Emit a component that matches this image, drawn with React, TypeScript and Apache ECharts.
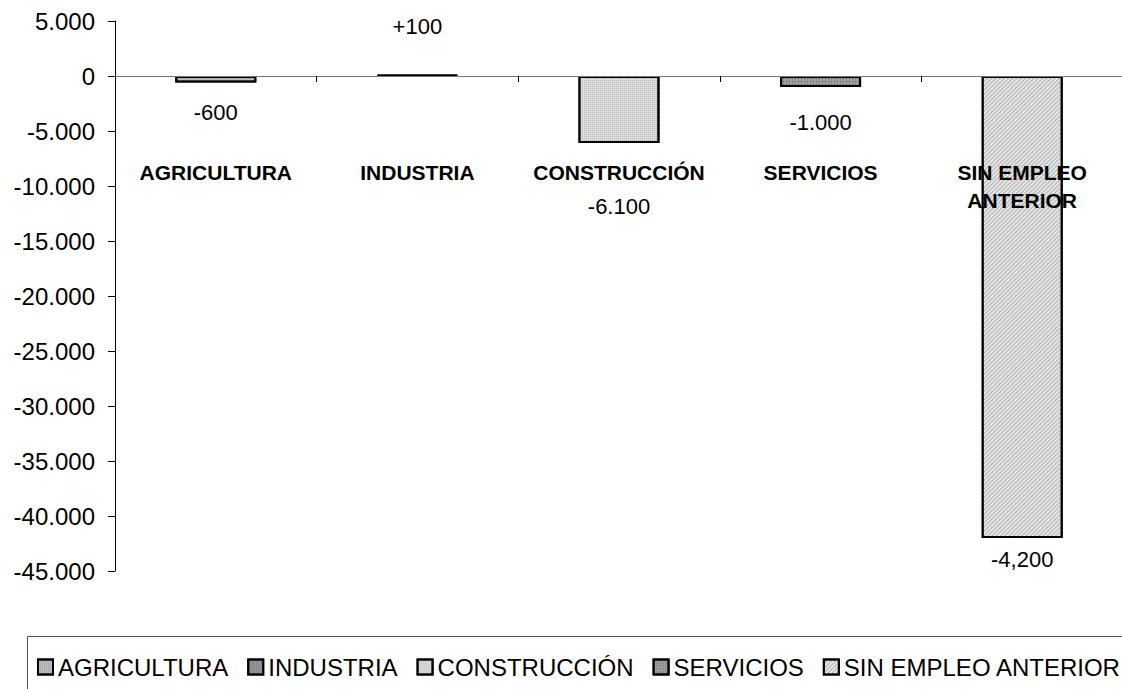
import React, { useEffect, useRef } from "react";
import * as echarts from "echarts";

const categories = ["AGRICULTURA", "INDUSTRIA", "CONSTRUCCIÓN", "SERVICIOS", "SIN EMPLEO\nANTERIOR"];
const seriesNames = ["AGRICULTURA", "INDUSTRIA", "CONSTRUCCIÓN", "SERVICIOS", "SIN EMPLEO ANTERIOR"];
const values = [-600, 100, -6100, -1000, -42000];
const labelTexts = ["-600", "+100", "-6.100", "-1.000", "-4,200"];
const yMin = -45000;
const yMax = 5000;
const yInterval = 5000;

const FONT = "'Liberation Sans', Arial, sans-serif";

const labelDistances = [19, 37, 52, 24, 10];
const fills = ["#bdbdbd", "#9a9a9a", "#dcdcdc", "#9c9c9c", "#e6e6e6"];
const decals: any[] = [
  { symbol: "rect", symbolSize: 1, color: "#9a9a9a", dashArrayX: [1, 1], dashArrayY: [1, 1] },
  { symbol: "rect", symbolSize: 1, color: "#6e6e6e", dashArrayX: [1, 1], dashArrayY: [1, 1] },
  { symbol: "rect", symbolSize: 1, color: "#b8b8b8", dashArrayX: [1, 1], dashArrayY: [1, 1] },
  { symbol: "rect", symbolSize: 1, color: "#5e5e5e", dashArrayX: [1, 2], dashArrayY: [1, 2] },
  { symbol: "rect", symbolSize: 1, color: "#b0b0b0", dashArrayX: [[1, 0]], dashArrayY: [1, 2], rotation: -Math.PI / 4 },
];

function fmtY(v: number): string {
  if (v === 0) return "0";
  const s = Math.abs(v).toString().replace(/\B(?=(\d{3})+(?!\d))/g, ".");
  return (v < 0 ? "-" : "") + s;
}

export default function App() {
  const ref = useRef<HTMLDivElement>(null);
  useEffect(() => {
    if (!ref.current) return;
    const chart = echarts.init(ref.current, undefined, { renderer: "svg" });
    const series = seriesNames.map((name, i) => ({
      name,
      type: "bar",
      stack: "total",
      barWidth: 81,
      data: categories.map((_, j) => (j === i ? values[i] : "-")),
      itemStyle: {
        color: fills[i],
        borderColor: "#000",
        borderWidth: 2,
        decal: decals[i],
      },
      label: {
        show: true,
        position: values[i] >= 0 ? "top" : "bottom",
        distance: labelDistances[i],
        formatter: () => labelTexts[i],
        fontSize: 22,
        fontFamily: FONT,
        color: "#000",
      },
    }));
    chart.setOption({
      animation: false,
      backgroundColor: "#fff",
      grid: { left: 115, top: 21, width: 1008, height: 550, containLabel: false, outerBoundsMode: "none" },
      xAxis: {
        type: "category",
        data: categories,
        position: "top",
        offset: -55,
        z: 10,
        axisLine: { show: true, onZero: false, lineStyle: { color: "#777", width: 1 } },
        axisTick: { show: true, inside: true, alignWithLabel: false, length: 6, lineStyle: { color: "#000" } },
        axisLabel: {
          inside: true,
          margin: 82,
          fontSize: 21,
          fontWeight: "bold",
          fontFamily: FONT,
          color: "#000",
          lineHeight: 28,
          interval: 0,
          verticalAlign: "top",
        },
      },
      yAxis: {
        type: "value",
        min: yMin,
        max: yMax,
        interval: yInterval,
        axisLine: { show: true, onZero: false, lineStyle: { color: "#000", width: 1 } },
        axisTick: { show: true, length: 7, lineStyle: { color: "#000" } },
        splitLine: { show: false },
        axisLabel: {
          margin: 20,
          fontSize: 24,
          fontFamily: FONT,
          color: "#000",
          formatter: fmtY,
        },
      },
      legend: {
        data: seriesNames,
        left: 37,
        top: 654,
        padding: 0,
        itemWidth: 15,
        itemHeight: 15,
        itemGap: 19,
        icon: "rect",
        textStyle: { fontSize: 24, fontFamily: FONT, color: "#000", lineHeight: 26 },
        selectedMode: false,
      },
      graphic: [
        {
          type: "rect",
          shape: { x: 27.5, y: 636.5, width: 1200, height: 100 },
          style: { fill: "none", stroke: "#555", lineWidth: 1 },
          silent: true,
        },
      ],
      series,
    });
    return () => chart.dispose();
  }, []);
  return (
    <div
      ref={ref}
      style={{ position: "fixed", left: 0, top: 0, width: 1122, height: 689 }}
    />
  );
}
